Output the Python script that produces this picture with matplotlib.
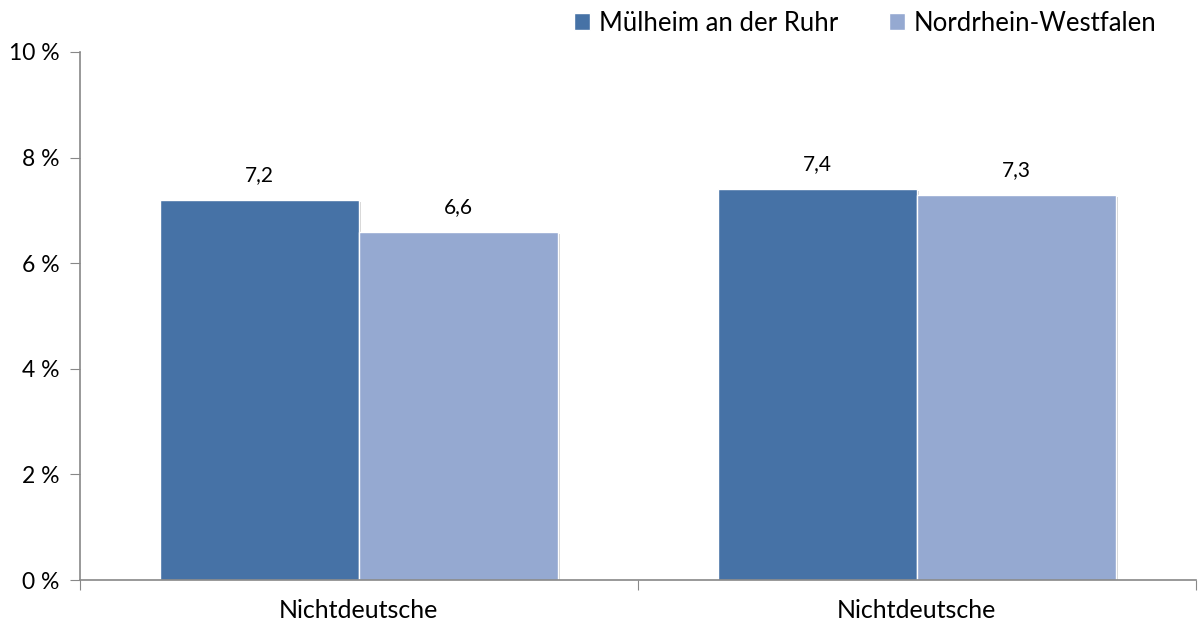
import numpy as np
import matplotlib.pyplot as plt

# Daten
categories = ["Nichtdeutsche", "Nichtdeutsche"]
series_names = ["Mülheim an der Ruhr", "Nordrhein-Westfalen"]
muelheim = [7.2, 7.4]
nrw = [6.6, 7.3]
yticks = [0, 2, 4, 6, 8, 10]

colors = ["#4672A6", "#95A9D1"]

plt.rcParams['font.family'] = ['Lato', 'DejaVu Sans']

fig = plt.figure(figsize=(12, 6.28), dpi=100)
ax = fig.add_axes([0.0667, 0.0764, 0.9296, 0.8408])

x = np.arange(len(categories))
w = 0.357
for i, (vals, name) in enumerate(zip([muelheim, nrw], series_names)):
    pos = x + (i - 0.5) * w
    # leichter Schatten
    ax.bar(pos + 0.004, vals, w, bottom=-0.04, color="#d0d0d0", zorder=1)
    ax.bar(pos, vals, w, color=colors[i], edgecolor="white", linewidth=1.0,
           label=name, zorder=2)
    for p, v in zip(pos, vals):
        ax.text(p, v + 0.28, f"{v:.1f}".replace(".", ","), ha="center", va="bottom",
                fontsize=15, color="#000000")

ax.set_xlim(-0.5, len(categories) - 0.5)
ax.set_ylim(0, 10)
ax.set_yticks(yticks)
ax.set_yticklabels([f"{t} %" for t in yticks], fontsize=16.5)

ax.set_xticks(np.arange(len(categories) + 1) - 0.5)
ax.set_xticklabels([])
ax.set_xticks(x, minor=True)
ax.set_xticklabels(categories, minor=True, fontsize=18)
ax.tick_params(axis="x", which="minor", length=0, pad=14)
ax.tick_params(axis="x", which="major", length=7, color="#888888", direction="out")
ax.tick_params(axis="y", length=7, color="#888888", direction="out", pad=8)

for s in ["top", "right"]:
    ax.spines[s].set_visible(False)
for s in ["left", "bottom"]:
    ax.spines[s].set_color("#888888")
    ax.spines[s].set_linewidth(1.2)

handles, labels = ax.get_legend_handles_labels()
leg = fig.legend(handles, labels, loc="upper right", bbox_to_anchor=(0.983, 1.02),
                 ncol=2, frameon=False, fontsize=18.5, handlelength=0.6, handleheight=0.6,
                 handletextpad=0.35, columnspacing=2.0)

fig.savefig("out.png", dpi=100)
